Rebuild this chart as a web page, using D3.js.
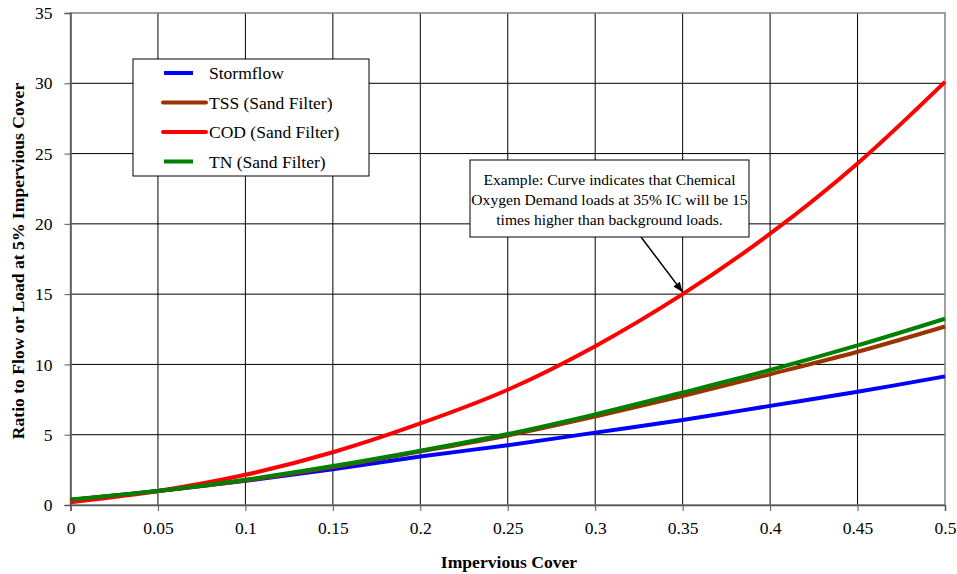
<!DOCTYPE html>
<html><head><meta charset="utf-8">
<script src="https://cdn.jsdelivr.net/npm/d3@7"></script>
<style>body{margin:0;background:#fff}svg{display:block}</style>
</head><body><svg id="c" width="957" height="574"></svg>
<script>
const xValues = [0,0.05,0.1,0.15,0.2,0.25,0.3,0.35,0.4,0.45,0.5];
const stormflow = [0.35,1.0,1.72,2.55,3.45,4.25,5.15,6.05,7.05,8.05,9.15];
const tss = [0.35,1.0,1.75,2.7,3.8,4.95,6.3,7.75,9.3,10.9,12.7];
const cod = [0.2,1.0,2.15,3.75,5.8,8.2,11.3,15.0,19.3,24.3,30.1];
const tn = [0.4,1.0,1.8,2.77,3.86,5.05,6.45,8.0,9.6,11.35,13.25];
const seriesNames = ["Stormflow","TSS (Sand Filter)","COD (Sand Filter)","TN (Sand Filter)"];
const seriesColors = ["#0000ff","#993300","#ff0000","#008000"];
const xTicks = [0,0.05,0.1,0.15,0.2,0.25,0.3,0.35,0.4,0.45,0.5];
const yTicks = [0,5,10,15,20,25,30,35];
const annotation = ["Example: Curve indicates that Chemical","Oxygen Demand loads at 35% IC will be 15","times higher than background loads."];

const FONT = "'Liberation Serif','Times New Roman','DejaVu Serif',serif";
const svg = d3.select("#c").style("font-family",FONT);
const L=70.5,R=945,T=13,B=505;
const x = d3.scaleLinear().domain([0,0.5]).range([L,R]);
const y = d3.scaleLinear().domain([0,35]).range([B,T]);

svg.append("g").selectAll("line").data(xTicks.slice(1,-1)).join("line")
  .attr("x1",d=>x(d)).attr("x2",d=>x(d)).attr("y1",T).attr("y2",B).attr("stroke","#000").attr("stroke-width",1);
svg.append("g").selectAll("line").data(yTicks.slice(1,-1)).join("line")
  .attr("y1",d=>y(d)).attr("y2",d=>y(d)).attr("x1",L).attr("x2",R).attr("stroke","#000").attr("stroke-width",1);
svg.append("rect").attr("x",L).attr("y",T).attr("width",R-L).attr("height",B-T).attr("fill","none").attr("stroke","#808080").attr("stroke-width",1.5);

const xa = svg.append("g").attr("transform",`translate(0,${B})`).call(d3.axisBottom(x).tickValues(xTicks).tickFormat(d=>d3.format("")(d)).tickSize(6).tickPadding(11));
const ya = svg.append("g").attr("transform",`translate(${L},0)`).call(d3.axisLeft(y).tickValues(yTicks).tickSize(6).tickPadding(12));
[xa,ya].forEach(a=>{a.attr("font-family",null).attr("font-size",null);
  a.select(".domain").attr("stroke","#555").attr("stroke-width",1.5);
  a.selectAll(".tick line").attr("stroke","#555");
  a.selectAll("text").style("font-family",FONT).attr("font-size",17.5).attr("fill","#000");});

svg.append("text").style("font-family",FONT).attr("x",509).attr("y",568).attr("text-anchor","middle").attr("font-weight","bold").attr("font-size",17.6).text("Impervious Cover");
svg.append("text").style("font-family",FONT).attr("transform","translate(24,261) rotate(-90)").attr("text-anchor","middle").attr("font-weight","bold").attr("font-size",17.6).text("Ratio to Flow or Load at 5% Impervious Cover");

const data=[stormflow,tss,cod,tn];
const line=d3.line().x((d,i)=>x(xValues[i])).y(d=>y(d)).curve(d3.curveCatmullRom);
[0,1,2,3].forEach(k=>{
  svg.append("path").datum(data[k]).attr("d",line).attr("fill","none").attr("stroke",seriesColors[k]).attr("stroke-width",4);
});

const lg=svg.append("g");
lg.append("rect").attr("x",133).attr("y",59).attr("width",236).attr("height",117).attr("fill","#fff").attr("stroke","#000").attr("stroke-width",1);
seriesNames.forEach((n,i)=>{
  const yy=73+i*29.5;
  const wide = (i==1||i==2);
  lg.append("line").attr("x1",wide?163:164).attr("x2",wide?206:193).attr("y1",yy).attr("y2",yy).attr("stroke",seriesColors[i]).attr("stroke-width",4).attr("stroke-linecap",wide?"round":"butt");
  lg.append("text").style("font-family",FONT).attr("x",209).attr("y",yy+6).attr("font-size",17.5).text(n);
});

svg.append("line").attr("x1",641).attr("y1",237).attr("x2",x(0.35)).attr("y2",y(15)-2).attr("stroke","#000").attr("stroke-width",1.5);
const ang=Math.atan2(y(15)-2-237,x(0.35)-641);
const tip=[x(0.35),y(15)-2];
const ah=[[tip[0],tip[1]],[tip[0]-10*Math.cos(ang)+4*Math.sin(ang),tip[1]-10*Math.sin(ang)-4*Math.cos(ang)],[tip[0]-10*Math.cos(ang)-4*Math.sin(ang),tip[1]-10*Math.sin(ang)+4*Math.cos(ang)]];
svg.append("polygon").attr("points",ah.map(p=>p.join(",")).join(" ")).attr("fill","#000");
svg.append("rect").attr("x",470).attr("y",160).attr("width",279).attr("height",77).attr("fill","#fff").attr("stroke","#000").attr("stroke-width",1);
annotation.forEach((t,i)=>svg.append("text").style("font-family",FONT).attr("x",609.5).attr("y",185+i*20).attr("text-anchor","middle").attr("font-size",15.6).text(t));
</script></body></html>
